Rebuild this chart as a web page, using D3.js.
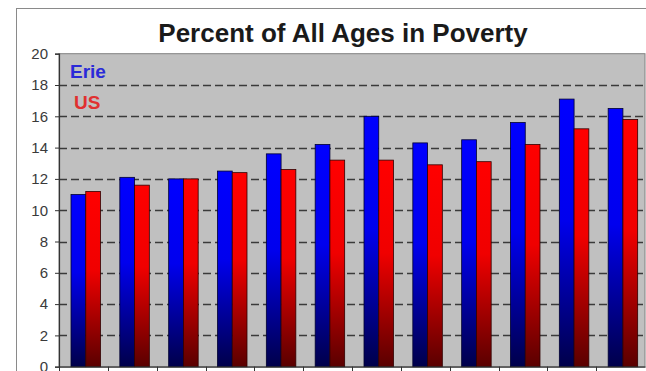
<!DOCTYPE html>
<html lang="en">
    <head>
        <meta charset="utf-8">
        <title>Percent of All Ages in Poverty</title>
        <script src="https://d3js.org/d3.v7.min.js"></script>
        <style type="text/css">
            body { margin: 0; background: #ffffff; }
            svg { display: block; }
        </style>
    </head>
    <body>
        <script type="text/javascript">

            //1. consts
            const svgW = 646;
            const svgH = 371;
            const plotL = 59, plotR = 645, plotT = 53.7, plotB = 366.7;

            //2. data
            const years = ["2000", "2001", "2002", "2003", "2004", "2005",
                           "2006", "2007", "2008", "2009", "2010", "2011"];
            const erie = [11.0, 12.1, 12.0, 12.5, 13.6, 14.2, 16.0, 14.3, 14.5, 15.6, 17.1, 16.5];
            const us   = [11.2, 11.6, 12.0, 12.4, 12.6, 13.2, 13.2, 12.9, 13.1, 14.2, 15.2, 15.8];
            const seriesNames = ["Erie", "US"];
            const yTicks = [0, 2, 4, 6, 8, 10, 12, 14, 16, 18, 20];

            const rows = years.map((y, i) => ({year: y, values: [erie[i], us[i]]}));

            //3. scales
            const xScale = d3.scaleBand().domain(years).range([plotL, plotR]);
            const xInner = d3.scaleBand().domain(seriesNames).range([12, 41.5]);
            const yScale = d3.scaleLinear().domain([0, 20]).range([plotB, plotT]);

            //4. svg
            const svg = d3.select("body").append("svg")
                .attr("width", svgW)
                .attr("height", svgH);

            const defs = svg.append("defs");
            const grads = [
                {id: "gBlue", stops: [["0%", "#0000ff"], ["45%", "#0000ee"], ["100%", "#00004a"]]},
                {id: "gRed",  stops: [["0%", "#ff0000"], ["45%", "#f00000"], ["100%", "#5a0000"]]}
            ];
            grads.forEach(g => {
                const lg = defs.append("linearGradient").attr("id", g.id)
                    .attr("x1", 0).attr("y1", 0).attr("x2", 0).attr("y2", 1);
                g.stops.forEach(s => lg.append("stop").attr("offset", s[0]).attr("stop-color", s[1]));
            });

            // outer chart frame
            svg.append("rect")
                .attr("x", 16.5).attr("y", 8.5)
                .attr("width", 640).attr("height", 380)
                .attr("fill", "#ffffff")
                .attr("stroke", "#8a8a8a");

            // plot area
            svg.append("rect")
                .attr("x", plotL).attr("y", plotT)
                .attr("width", plotR - plotL).attr("height", plotB - plotT)
                .attr("fill", "#c0c0c0")
                .attr("stroke", "#808080");

            // grid lines
            svg.append("g").selectAll("line")
                .data(yTicks.filter(d => d > 0 && d < 20))
                .enter().append("line")
                .attr("x1", plotL).attr("x2", plotR)
                .attr("y1", d => Math.round(yScale(d)) + 0.5)
                .attr("y2", d => Math.round(yScale(d)) + 0.5)
                .attr("stroke", "#3a3a3a")
                .attr("stroke-width", 1.6)
                .attr("stroke-dasharray", "8,4");

            // bars
            const groups = svg.append("g").selectAll("g")
                .data(rows)
                .enter().append("g")
                .attr("transform", d => "translate(" + xScale(d.year) + ",0)");

            groups.selectAll("rect")
                .data(d => d.values.map((v, i) => ({name: seriesNames[i], value: v})))
                .enter().append("rect")
                .attr("x", d => xInner(d.name))
                .attr("y", d => yScale(d.value))
                .attr("width", xInner.bandwidth())
                .attr("height", d => plotB - yScale(d.value))
                .attr("fill", d => d.name === "Erie" ? "url(#gBlue)" : "url(#gRed)")
                .attr("stroke", d => d.name === "Erie" ? "#000030" : "#300000")
                .attr("stroke-width", 0.8);

            // left axis
            const leftAxis = d3.axisLeft(yScale)
                .tickValues(yTicks)
                .tickSize(4)
                .tickPadding(7);

            const gy = svg.append("g")
                .attr("transform", "translate(" + plotL + ",0)")
                .call(leftAxis);
            gy.select(".domain").attr("stroke", "#333333").attr("stroke-width", 1.2);
            gy.selectAll(".tick line").attr("stroke", "#333333");
            gy.selectAll("text")
                .attr("font-family", "Liberation Sans, Arial, sans-serif")
                .attr("font-size", "15px")
                .attr("fill", "#3a3a3a");

            // bottom axis (ticks only, labels cut off)
            const bottomAxis = d3.axisBottom(xScale).tickSize(0).tickFormat("");
            const gx = svg.append("g")
                .attr("transform", "translate(0," + plotB + ")")
                .call(bottomAxis);
            gx.select(".domain").attr("stroke", "#333333").attr("stroke-width", 1.2);

            svg.append("g").selectAll("line")
                .data(years)
                .enter().append("line")
                .attr("x1", d => Math.round(xScale(d)) + 0.5)
                .attr("x2", d => Math.round(xScale(d)) + 0.5)
                .attr("y1", plotB).attr("y2", plotB + 6)
                .attr("stroke", "#333333");

            // title
            svg.append("text")
                .attr("x", 343).attr("y", 41.5)
                .attr("text-anchor", "middle")
                .attr("font-family", "Liberation Sans, Arial, sans-serif")
                .attr("font-weight", "bold")
                .attr("font-size", "26px")
                .attr("fill", "#1a1a1a")
                .text("Percent of All Ages in Poverty");

            // legend
            const legendColors = ["#2a2ad8", "#e03030"];
            svg.append("g").selectAll("text")
                .data(seriesNames)
                .enter().append("text")
                .attr("x", (d, i) => i === 0 ? 70 : 74)
                .attr("y", (d, i) => 77.5 + i * 31.5)
                .attr("font-family", "Liberation Sans, Arial, sans-serif")
                .attr("font-weight", "bold")
                .attr("font-size", "19px")
                .attr("fill", (d, i) => legendColors[i])
                .text(d => d);

        </script>
    </body>
</html>
